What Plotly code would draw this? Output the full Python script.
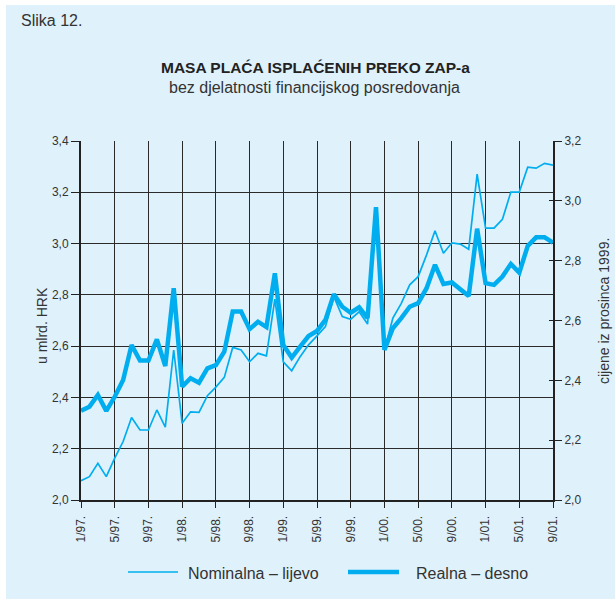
import plotly.graph_objects as go

months = list(range(57))
tick_pos = list(range(0, 57, 4))
tick_labels = ["1/97.", "5/97.", "9/97.", "1/98.", "5/98.", "9/98.", "1/99.", "5/99.",
               "9/99.", "1/00.", "5/00.", "9/00.", "1/01.", "5/01.", "9/01."]

nominal = [2.075, 2.091, 2.143, 2.091, 2.163, 2.228, 2.322, 2.273, 2.273, 2.351,
           2.284, 2.585, 2.299, 2.344, 2.342, 2.407, 2.44, 2.478, 2.595, 2.585,
           2.539, 2.572, 2.562, 2.783, 2.539, 2.504, 2.559, 2.605, 2.64, 2.676,
           2.793, 2.715, 2.705, 2.734, 2.686, 3.141, 2.585, 2.709, 2.767, 2.839,
           2.871, 2.956, 3.05, 2.962, 3.003, 2.998, 2.978, 3.271, 3.06, 3.06,
           3.095, 3.201, 3.201, 3.298, 3.294, 3.313, 3.306]

real = [2.298, 2.312, 2.351, 2.298, 2.345, 2.401, 2.518, 2.466, 2.466, 2.537,
        2.448, 2.708, 2.379, 2.407, 2.392, 2.44, 2.451, 2.496, 2.63, 2.63,
        2.571, 2.596, 2.578, 2.758, 2.518, 2.476, 2.513, 2.548, 2.565, 2.602,
        2.688, 2.646, 2.626, 2.644, 2.608, 2.979, 2.502, 2.574, 2.608, 2.646,
        2.658, 2.708, 2.786, 2.722, 2.727, 2.705, 2.682, 2.907, 2.725, 2.719,
        2.747, 2.789, 2.76, 2.849, 2.878, 2.878, 2.86]

left_ticks = [2.0, 2.2, 2.4, 2.6, 2.8, 3.0, 3.2, 3.4]
right_ticks = [2.0, 2.2, 2.4, 2.6, 2.8, 3.0, 3.2]

series_names = ["Nominalna – lijevo", "Realna – desno"]

BG = "#dff1fb"
LINE = "#00aeef"
AX = "#222222"
TXT = "#333333"
FONT = "Liberation Sans"
THIN, THICK = 1.7, 4.5

W, H = 615, 599
ML, MR, MT, MB = 81, 62, 141, 99
plot_h = H - MT - MB
plot_w = W - ML - MR


def py(pix_y):
    return (H - MB - pix_y) / plot_h


def px(pix_x):
    return (pix_x - ML) / plot_w


fig = go.Figure()
fig.add_trace(go.Scatter(x=months, y=nominal, mode="lines", name=series_names[0],
                         line=dict(color=LINE, width=THIN), yaxis="y"))
fig.add_trace(go.Scatter(x=months, y=real, mode="lines", name=series_names[1],
                         line=dict(color=LINE, width=THICK), yaxis="y2"))
# helper axis carrying the inner half of the right-axis tick marks
fig.add_trace(go.Scatter(x=[months[0]], y=[real[0]], yaxis="y3", mode="lines",
                         showlegend=False, hoverinfo="skip",
                         line=dict(color="rgba(0,0,0,0)")))

fig.update_layout(
    width=W, height=H,
    margin=dict(l=ML, r=MR, t=MT, b=MB, autoexpand=False),
    paper_bgcolor="white", plot_bgcolor=BG,
    separators=", ",
    font=dict(family=FONT, size=12, color=TXT),
    showlegend=False,
    xaxis=dict(range=[0, 56], tickmode="array", tickvals=tick_pos, ticktext=tick_labels,
               tickangle=-90, showgrid=True, gridcolor="#2a2a2a", gridwidth=1,
               showline=True, linecolor=AX, linewidth=2,
               ticks="outside", ticklen=6, tickcolor=AX, ticklabelstandoff=3,
               tickfont=dict(size=12, color=TXT), zeroline=False, automargin=False),
    yaxis=dict(range=[2.0, 3.4], tickmode="array", tickvals=left_ticks,
               tickformat=".1f", showgrid=True, gridcolor="#2a2a2a", gridwidth=1,
               showline=True, linecolor=AX, linewidth=2,
               ticks="outside", ticklen=8, tickcolor=AX,
               tickfont=dict(size=12, color=TXT), zeroline=False, automargin=False),
    yaxis2=dict(range=[2.0, 3.2], overlaying="y", side="right", tickmode="array",
                tickvals=right_ticks, tickformat=".1f", showgrid=False,
                showline=True, linecolor=AX, linewidth=2,
                ticks="outside", ticklen=7, tickcolor=AX,
                tickfont=dict(size=12, color=TXT), zeroline=False, automargin=False),
    yaxis3=dict(range=[2.0, 3.2], overlaying="y", side="right", tickmode="array",
                tickvals=right_ticks, showticklabels=False, showgrid=False,
                showline=False, ticks="inside", ticklen=4, tickcolor=AX,
                zeroline=False, automargin=False),
)

fig.add_shape(type="rect", xref="paper", yref="paper",
              x0=px(6), x1=px(W + 2), y0=py(H + 2), y1=py(5),
              fillcolor=BG, line=dict(width=0), layer="below")

# legend drawn by hand to match the reference spacing
fig.add_shape(type="line", xref="paper", yref="paper", x0=px(128), x1=px(178),
              y0=py(572), y1=py(572), line=dict(color=LINE, width=THIN))
fig.add_shape(type="line", xref="paper", yref="paper", x0=px(348), x1=px(399),
              y0=py(572), y1=py(572), line=dict(color=LINE, width=THICK))
fig.add_annotation(text=series_names[0], xref="paper", yref="paper", x=px(186), y=py(573),
                   xanchor="left", yanchor="middle", showarrow=False,
                   font=dict(size=16, color=TXT))
fig.add_annotation(text=series_names[1], xref="paper", yref="paper", x=px(414), y=py(573),
                   xanchor="left", yanchor="middle", showarrow=False,
                   font=dict(size=16, color=TXT))

fig.add_annotation(text="Slika 12.", xref="paper", yref="paper", x=px(19), y=py(21),
                   xanchor="left", yanchor="middle", showarrow=False,
                   font=dict(size=16, color=TXT))
fig.add_annotation(text="<b>MASA PLAĆA ISPLAĆENIH PREKO ZAP-a</b>", xref="paper", yref="paper",
                   x=px(315), y=py(68), xanchor="center", yanchor="middle", showarrow=False,
                   font=dict(size=15.5, color="#222222"))
fig.add_annotation(text="bez djelatnosti financijskog posredovanja", xref="paper", yref="paper",
                   x=px(314), y=py(87), xanchor="center", yanchor="middle", showarrow=False,
                   font=dict(size=16, color=TXT))
fig.add_annotation(text="u mlrd. HRK", xref="paper", yref="paper", x=px(42), y=py(326),
                   xanchor="center", yanchor="middle", showarrow=False, textangle=-90,
                   font=dict(size=14, color=TXT))
fig.add_annotation(text="cijene iz prosinca 1999.", xref="paper", yref="paper", x=px(604),
                   y=py(311), xanchor="center", yanchor="middle", showarrow=False,
                   textangle=-90, font=dict(size=14, color=TXT))

fig.write_html("out.html", config={"displayModeBar": False},
               post_script="document.body.style.margin='0px';")
